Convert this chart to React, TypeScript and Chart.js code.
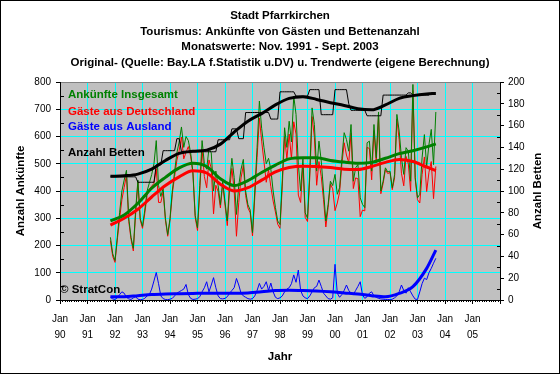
import React, { useEffect, useRef } from "react";
import { Chart, registerables } from "chart.js";

Chart.register(...registerables);

// ---------- data (monthly, Nov 1991 .. Sep 2003) ----------
const seriesStartYear = 1991;
const seriesStartMonth = 11;

const ankuenfteInsgesamt = [
  230, 170,
  145, 230, 320, 400, 440, 476, 300, 230, 190, 330, 440, 300,
  270, 330, 400, 430, 460, 500, 585, 420, 380, 410, 300, 240,
  300, 400, 470, 540, 580, 635, 560, 600, 585, 540, 470, 310,
  265, 420, 585, 500, 480, 556, 540, 400, 473, 420, 350, 436,
  360, 290, 430, 520, 450, 314, 420, 480, 516, 400, 350, 330,
  247, 400, 560, 730, 630, 560, 500, 520, 480, 400, 340, 290,
  277, 440, 632, 560, 656, 580, 748, 681, 497, 400, 520, 320,
  300, 473, 705, 644, 473, 583, 510, 400, 290, 351, 436, 420,
  461, 388, 412, 520, 614, 589, 546, 644, 436, 485, 497, 375,
  351, 339, 577, 583, 473, 644, 522, 690, 400, 436, 485, 470,
  473, 412, 460, 681, 620, 522, 461, 559, 546, 436, 791, 450,
  375, 388, 522, 607, 490, 571, 626, 497, 690,
];

const gaesteDeutschland = [
  218, 160,
  138, 220, 298, 368, 413, 458, 288, 222, 180, 316, 432, 294,
  263, 318, 383, 408, 418, 428, 482, 358, 358, 398, 293, 234,
  292, 388, 453, 513, 548, 598, 518, 542, 563, 528, 463, 302,
  255, 403, 553, 453, 412, 514, 484, 316, 421, 398, 338, 426,
  348, 273, 403, 483, 403, 234, 358, 448, 494, 383, 338, 320,
  235, 378, 523, 668, 583, 508, 432, 478, 416, 363, 323, 278,
  263, 418, 600, 518, 609, 518, 654, 609, 385, 358, 498, 303,
  288, 451, 673, 597, 421, 508, 453, 368, 268, 339, 426, 408,
  328, 356, 395, 498, 577, 532, 504, 612, 409, 448, 445, 306,
  330, 327, 560, 556, 441, 622, 505, 678, 390, 428, 478, 464,
  468, 405, 448, 664, 588, 465, 419, 527, 499, 399, 769, 443,
  368, 356, 460, 525, 398, 469, 508, 372, 490,
];

const gaesteAusland = [
  10, 4,
  2, 8, 20, 30, 25, 10, 4, 2, 8, 12, 3, 1,
  2, 6, 15, 20, 40, 70, 101, 60, 15, 5, 2, 1,
  3, 6, 15, 25, 30, 35, 40, 57, 20, 6, 2, 3,
  5, 12, 30, 45, 67, 30, 55, 82, 45, 15, 5, 4,
  6, 12, 25, 35, 45, 79, 55, 25, 15, 10, 5, 3,
  5, 15, 35, 61, 40, 50, 67, 35, 62, 30, 10, 5,
  8, 15, 30, 40, 45, 60, 92, 65, 110, 35, 15, 8,
  5, 15, 30, 45, 50, 73, 50, 25, 15, 5, 3, 8,
  131, 25, 10, 20, 35, 55, 35, 25, 20, 35, 50, 67,
  18, 6, 12, 25, 30, 15, 10, 6, 4, 3, 2, 2,
  1, 3, 8, 15, 30, 55, 35, 25, 45, 30, 15, 3,
  2, 30, 60, 80, 75, 100, 116, 135, 153,
];

const anzahlBetten = [
  113, 113,
  113, 113, 113, 113, 113, 113, 113, 113, 113, 113, 108, 108,
  108, 108, 108, 108, 108, 108, 124, 124, 124, 137, 137, 137,
  137, 137, 137, 148, 148, 136, 136, 136, 136, 136, 136, 136,
  136, 136, 136, 136, 136, 136, 136, 136, 136, 147, 147, 147,
  147, 147, 147, 157, 157, 157, 148, 148, 148, 172, 172, 172,
  172, 172, 172, 172, 172, 172, 172, 172, 166, 166, 166, 166,
  191, 191, 191, 191, 191, 191, 191, 187, 187, 187, 187, 187,
  187, 193, 193, 193, 193, 193, 170, 170, 170, 170, 170, 170,
  193, 193, 193, 193, 193, 193, 180, 174, 174, 174, 174, 174,
  174, 174, 169, 169, 169, 169, 169, 169, 169, 188, 188, 188,
  188, 188, 188, 188, 188, 188, 188, 188, 190, 190, 188, 188,
  188, 188, 188, 188, 188, 188, 190, 190, 190,
];

// trend values (month index from Nov 1991)
const trendMonths = [0, 6, 12, 18, 24, 30, 36, 42, 48, 54, 60, 66, 72, 78, 84, 90, 96, 102, 108, 114, 120, 126, 132, 138, 142];
const trendInsgesamt = [290, 312, 355, 410, 450, 485, 502, 490, 445, 420, 438, 468, 495, 518, 522, 522, 512, 506, 502, 505, 520, 537, 548, 562, 573];
const trendDeutschland = [275, 300, 333, 378, 420, 452, 474, 466, 425, 400, 412, 440, 470, 486, 491, 490, 486, 480, 479, 490, 505, 516, 508, 488, 475];
const trendAusland = [12, 12, 16, 20, 22, 23, 24, 25, 25, 25, 26, 30, 35, 36, 35, 33, 30, 26, 22, 16, 12, 24, 49, 116, 183];
const trendBetten = [113.5, 114, 115.5, 120, 128, 134.5, 136.5, 137.5, 143, 154, 164, 171, 179, 185, 186.5, 184, 181, 178.5, 175.5, 174.5, 179, 185, 187.5, 189, 189.5];

const titleLines = [
  "Stadt Pfarrkirchen",
  "Tourismus: Ankünfte von Gästen und Bettenanzahl",
  "Monatswerte: Nov. 1991 - Sept. 2003",
  "Original- (Quelle: Bay.LA f.Statistik u.DV) u. Trendwerte (eigene Berechnung)",
];
const legendLabels = ["Ankünfte Insgesamt", "Gäste aus Deutschland", "Gäste aus Ausland", "Anzahl Betten"];
const yLeftTitle = "Anzahl Ankünfte";
const yRightTitle = "Anzahl Betten";
const xTitle = "Jahr";
const copyright = "© StratCon";

const X_MIN = 1990;
const X_MAX = 2006;
const LEFT_MAX = 800;
const RIGHT_MAX = 200;

// ---------- style ----------
const GREEN = "#008000";
const RED = "#FF0000";
const BLUE = "#0000FF";
const BLACK = "#000000";
const CYAN = "#00FFFF";
const PLOT_BG = "#C0C0C0";
const FONT = '"Liberation Sans", Arial, sans-serif';
const legendColors = [GREEN, RED, BLUE, BLACK];

const monthToX = (i: number) => seriesStartYear + (seriesStartMonth - 1 + i) / 12;
const toPoints = (arr: number[]) => arr.map((v, i) => ({ x: monthToX(i), y: v }));
const toTrendPoints = (arr: number[]) => arr.map((v, k) => ({ x: monthToX(trendMonths[k]), y: v }));

const decoPlugin = {
  id: "deco",
  beforeDraw(chart: any) {
    const { ctx, chartArea: a } = chart;
    ctx.save();
    ctx.fillStyle = "#ffffff";
    ctx.fillRect(0, 0, chart.width, chart.height);
    ctx.fillStyle = PLOT_BG;
    ctx.fillRect(a.left, a.top, a.right - a.left, a.bottom - a.top);
    ctx.restore();
  },
  beforeDatasetsDraw(chart: any) {
    const { ctx, chartArea: a } = chart;
    const xs = chart.scales.x;
    const yl = chart.scales.y;
    const yr = chart.scales.y2;
    ctx.save();
    ctx.lineWidth = 1;
    ctx.strokeStyle = "#808080";
    ctx.beginPath();
    ctx.moveTo(a.left, Math.round(a.top) + 0.5);
    ctx.lineTo(a.right, Math.round(a.top) + 0.5);
    ctx.stroke();
    ctx.strokeStyle = BLACK;
    ctx.beginPath();
    ctx.moveTo(Math.round(a.left) + 0.5, a.top);
    ctx.lineTo(Math.round(a.left) + 0.5, a.bottom + 1);
    ctx.moveTo(Math.round(a.right) + 0.5, a.top);
    ctx.lineTo(Math.round(a.right) + 0.5, a.bottom + 1);
    ctx.moveTo(a.left, Math.round(a.bottom) + 0.5);
    ctx.lineTo(a.right + 1, Math.round(a.bottom) + 0.5);
    ctx.stroke();
    ctx.beginPath();
    for (let m = X_MIN * 12; m <= X_MAX * 12; m++) {
      if (m % 12 === 0) continue;
      const px = Math.round(xs.getPixelForValue(m / 12)) + 0.5;
      ctx.moveTo(px, a.bottom);
      ctx.lineTo(px, a.bottom + 2);
    }
    for (let v = 50; v < LEFT_MAX; v += 100) {
      const py = Math.round(yl.getPixelForValue(v)) + 0.5;
      ctx.moveTo(a.left, py);
      ctx.lineTo(a.left + 4, py);
    }
    for (let v = 10; v < RIGHT_MAX; v += 20) {
      const py = Math.round(yr.getPixelForValue(v)) + 0.5;
      ctx.moveTo(a.right - 3, py);
      ctx.lineTo(a.right, py);
    }
    ctx.stroke();
    ctx.restore();
  },
  afterDraw(chart: any) {
    const { ctx, chartArea: a } = chart;
    ctx.save();
    ctx.font = `bold 11.5px ${FONT}`;
    ctx.textBaseline = "middle";
    ctx.fillStyle = BLACK;
    ctx.textAlign = "center";
    const cx = (a.left + a.right) / 2;
    titleLines.forEach((t, k) => ctx.fillText(t, cx, 16 + k * 15.5));
    ctx.fillText(xTitle, cx, 357);
    ctx.save();
    ctx.translate(21, (a.top + a.bottom) / 2);
    ctx.rotate(-Math.PI / 2);
    ctx.fillText(yLeftTitle, 0, 0);
    ctx.restore();
    ctx.save();
    ctx.translate(538, (a.top + a.bottom) / 2);
    ctx.rotate(-Math.PI / 2);
    ctx.fillText(yRightTitle, 0, 0);
    ctx.restore();
    ctx.textAlign = "left";
    const ly = [95, 111.5, 126.5, 153];
    legendLabels.forEach((t, k) => {
      ctx.fillStyle = legendColors[k];
      ctx.fillText(t, a.left + 8, ly[k]);
    });
    ctx.fillStyle = BLACK;
    ctx.fillText(copyright, a.left, 290);
    ctx.strokeStyle = BLACK;
    ctx.lineWidth = 1;
    ctx.strokeRect(0.5, 0.5, chart.width - 1, chart.height - 1);
    ctx.restore();
  },
};

export default function App() {
  const ref = useRef<HTMLCanvasElement | null>(null);
  useEffect(() => {
    document.body.style.margin = "0";
    const canvas = ref.current;
    if (!canvas) return;
    const thin = (data: any[], color: string, yAxisID = "y") => ({
      data,
      borderColor: color,
      backgroundColor: color,
      borderWidth: 1,
      pointRadius: 0,
      tension: 0,
      yAxisID,
      fill: false,
    });
    const thick = (data: any[], color: string, yAxisID = "y") => ({
      data,
      borderColor: color,
      backgroundColor: color,
      borderWidth: 3,
      pointRadius: 0,
      cubicInterpolationMode: "monotone",
      yAxisID,
      fill: false,
    });
    const chart = new Chart(canvas, {
      type: "line",
      data: {
        datasets: [
          thick(toTrendPoints(trendBetten), BLACK, "y2"),
          thick(toTrendPoints(trendInsgesamt), GREEN),
          thick(toTrendPoints(trendDeutschland), RED),
          thick(toTrendPoints(trendAusland), BLUE),
          thin(toPoints(anzahlBetten), BLACK, "y2"),
          thin(toPoints(ankuenfteInsgesamt), GREEN),
          thin(toPoints(gaesteDeutschland), RED),
          thin(toPoints(gaesteAusland), BLUE),
        ] as any,
      },
      plugins: [decoPlugin],
      options: {
        responsive: false,
        animation: false,
        devicePixelRatio: 1,
        layout: { padding: { top: 82, left: 0, right: 0, bottom: 0 } },
        plugins: { legend: { display: false }, tooltip: { enabled: false }, title: { display: false } },
        elements: { line: { borderCapStyle: "butt", borderJoinStyle: "miter" } },
        scales: {
          x: {
            type: "linear",
            min: X_MIN,
            max: X_MAX,
            afterFit: (s: any) => { s.height = 74; },
            grid: { color: CYAN, lineWidth: 1, tickColor: BLACK, tickLength: 4 },
            border: { color: BLACK, width: 1 },
            ticks: {
              stepSize: 1,
              autoSkip: false,
              maxRotation: 0,
              padding: 7,
              color: BLACK,
              font: { family: FONT, size: 10, lineHeight: 1.6 },
              callback: (v: any) => (Number(v) < X_MAX ? ["Jan", String(Number(v) % 100).padStart(2, "0")] : ""),
            },
          },
          y: {
            type: "linear",
            position: "left",
            min: 0,
            max: LEFT_MAX,
            afterFit: (s: any) => { s.width = 60; },
            grid: { color: CYAN, lineWidth: 1, tickColor: BLACK, tickLength: 4 },
            border: { color: BLACK, width: 1 },
            ticks: { stepSize: 100, padding: 5, color: BLACK, font: { family: FONT, size: 10 } },
          },
          y2: {
            type: "linear",
            position: "right",
            min: 0,
            max: RIGHT_MAX,
            afterFit: (s: any) => { s.width = 60; },
            grid: { drawOnChartArea: false, color: BLACK, tickColor: BLACK, tickLength: 4 },
            border: { color: BLACK, width: 1 },
            ticks: { stepSize: 20, padding: 4, color: BLACK, font: { family: FONT, size: 10 } },
          },
        },
      } as any,
    });
    return () => chart.destroy();
  }, []);
  return (
    <div style={{ width: 560, height: 374 }}>
      <canvas ref={ref} width={560} height={374} style={{ display: "block" }} />
    </div>
  );
}
